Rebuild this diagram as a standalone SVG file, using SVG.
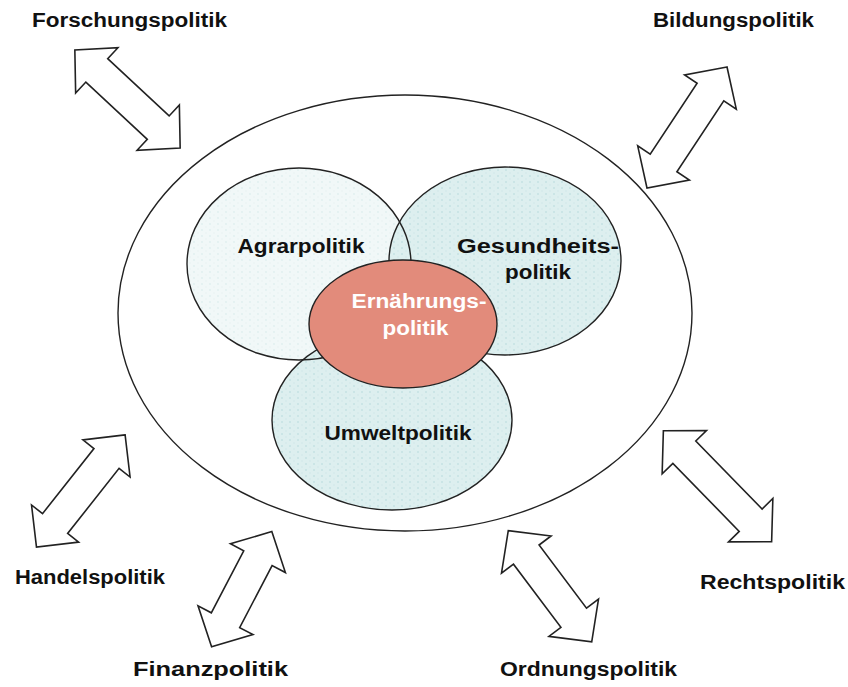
<svg xmlns="http://www.w3.org/2000/svg" width="848" height="687" viewBox="0 0 848 687">
  <style>
    .lbl { font-family: "Liberation Sans", Arial, sans-serif; font-weight: bold; font-size: 20px; fill: #111; }
    .inner { font-family: "Liberation Sans", Arial, sans-serif; font-weight: bold; font-size: 20px; fill: #111; text-anchor: middle; }
    .core { font-family: "Liberation Sans", Arial, sans-serif; font-weight: bold; font-size: 20px; fill: #fff; text-anchor: middle; }
    .arrow { fill: #fff; stroke: #222; stroke-width: 1.6; stroke-linejoin: miter; }
    .ring { fill: none; stroke: #222; stroke-width: 1.4; }
  </style>
  <defs>
    <pattern id="texCyan" width="8" height="6" patternUnits="userSpaceOnUse">
      <rect width="8" height="6" fill="#DDEFEF"/>
      <circle cx="2" cy="2" r="1" fill="#C6E2E3"/>
      <circle cx="6" cy="5" r="0.8" fill="#CFE7E8"/>
    </pattern>
    <pattern id="texLight" width="8" height="6" patternUnits="userSpaceOnUse">
      <rect width="8" height="6" fill="#F1F8F8"/>
      <circle cx="2" cy="2" r="0.9" fill="#E0EFEF"/>
      <circle cx="6" cy="5" r="0.7" fill="#E6F2F2"/>
    </pattern>
  </defs>

  <!-- outer policy field -->
  <ellipse id="outer" class="ring" cx="405" cy="313" rx="287" ry="218"/>

  <!-- overlapping policy areas: fills first, outlines after -->
  <g id="fills">
    <ellipse cx="299" cy="264" rx="112" ry="96" fill="url(#texLight)"/>
    <ellipse cx="505" cy="261" rx="116" ry="94" fill="url(#texCyan)"/>
    <ellipse cx="392" cy="420" rx="120" ry="90" fill="url(#texCyan)"/>
  </g>
  <g id="agrar">
    <ellipse class="ring" cx="299" cy="264" rx="112" ry="96"/>
    <text class="inner" x="301" y="253" textLength="127" lengthAdjust="spacingAndGlyphs">Agrarpolitik</text>
  </g>
  <g id="gesundheit">
    <ellipse class="ring" cx="505" cy="261" rx="116" ry="94"/>
    <text class="inner" x="538" y="253" textLength="162" lengthAdjust="spacingAndGlyphs">Gesundheits-</text>
    <text class="inner" x="538" y="279" textLength="66" lengthAdjust="spacingAndGlyphs">politik</text>
  </g>
  <g id="umwelt">
    <ellipse class="ring" cx="392" cy="420" rx="120" ry="90"/>
    <text class="inner" x="398" y="440" textLength="147" lengthAdjust="spacingAndGlyphs">Umweltpolitik</text>
  </g>
  <g id="ernaehrung">
    <ellipse cx="403" cy="324" rx="94" ry="64" fill="#E28B7B" stroke="#222" stroke-width="1.4"/>
    <text class="core" x="419" y="308" textLength="135" lengthAdjust="spacingAndGlyphs">Ernährungs-</text>
    <text class="core" x="415.5" y="335" textLength="66" lengthAdjust="spacingAndGlyphs">politik</text>
  </g>

  <!-- double-headed block arrows -->
  <g id="connectors">
    <path class="arrow" transform="translate(127.5,99) rotate(43)" d="M72,0 L42,-31 L42,-16 L-42,-16 L-42,-31 L-72,0 L-42,31 L-42,16 L42,16 L42,31 Z"/>
    <path class="arrow" transform="translate(687,127.5) rotate(-56.5)" d="M72.5,0 L42.5,-31 L42.5,-16 L-42.5,-16 L-42.5,-31 L-72.5,0 L-42.5,31 L-42.5,16 L42.5,16 L42.5,31 Z"/>
    <path class="arrow" transform="translate(80.8,491) rotate(-51.7)" d="M71.5,0 L41.5,-30 L41.5,-16 L-41.5,-16 L-41.5,-30 L-71.5,0 L-41.5,30 L-41.5,16 L41.5,16 L41.5,30 Z"/>
    <path class="arrow" transform="translate(241.7,589.2) rotate(-62.4)" d="M65,0 L35,-31 L35,-16 L-35,-16 L-35,-31 L-65,0 L-35,31 L-35,16 L35,16 L35,31 Z"/>
    <path class="arrow" transform="translate(550,586.2) rotate(53.1)" d="M69.5,0 L39.5,-31 L39.5,-16 L-39.5,-16 L-39.5,-31 L-69.5,0 L-39.5,31 L-39.5,16 L39.5,16 L39.5,31 Z"/>
    <path class="arrow" transform="translate(717.5,486.2) rotate(45.7)" d="M77.5,0 L47.5,-31 L47.5,-16 L-47.5,-16 L-47.5,-31 L-77.5,0 L-47.5,31 L-47.5,16 L47.5,16 L47.5,31 Z"/>
  </g>

  <!-- neighbouring policy fields -->
  <g id="forschung"><text class="lbl" x="32" y="27" textLength="195" lengthAdjust="spacingAndGlyphs">Forschungspolitik</text></g>
  <g id="bildung"><text class="lbl" x="653" y="27" textLength="161" lengthAdjust="spacingAndGlyphs">Bildungspolitik</text></g>
  <g id="handel"><text class="lbl" x="15" y="584" textLength="150" lengthAdjust="spacingAndGlyphs">Handelspolitik</text></g>
  <g id="finanz"><text class="lbl" x="133" y="676" textLength="155" lengthAdjust="spacingAndGlyphs">Finanzpolitik</text></g>
  <g id="ordnung"><text class="lbl" x="500" y="676" textLength="177" lengthAdjust="spacingAndGlyphs">Ordnungspolitik</text></g>
  <g id="recht"><text class="lbl" x="700" y="589" textLength="145" lengthAdjust="spacingAndGlyphs">Rechtspolitik</text></g>
</svg>
